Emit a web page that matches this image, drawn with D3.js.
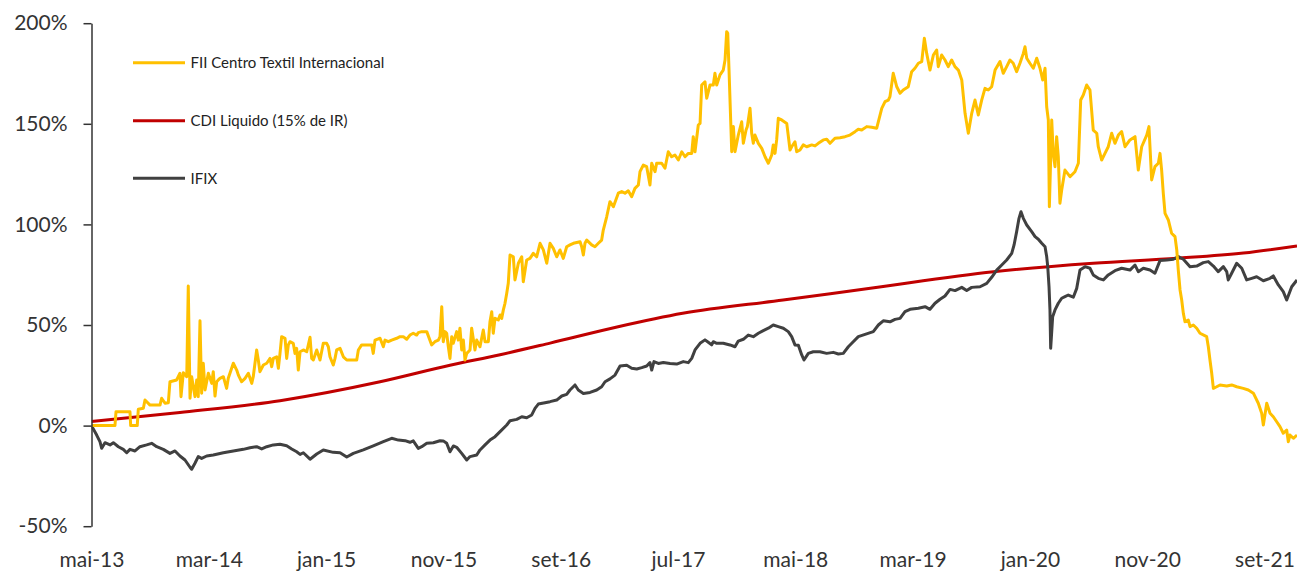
<!DOCTYPE html>
<html>
<head>
<meta charset="utf-8">
<script src="https://cdn.jsdelivr.net/npm/d3@7"></script>
<style>
  html, body { margin: 0; padding: 0; background: #fff; }
  svg { display: block; }
  text { font-family: Lato, "Open Sans", sans-serif; }
</style>
</head>
<body>
<svg id="chart" width="1297" height="572"></svg>
<script>
// ---- data (x = months since mai-13, y = cumulative return %) ----
const xTickMonths = [0, 10, 20, 30, 40, 50, 60, 70, 80, 90, 100];
const xTickLabels = ["mai-13", "mar-14", "jan-15", "nov-15", "set-16", "jul-17", "mai-18", "mar-19", "jan-20", "nov-20", "set-21"];
const yTicks = [-50, 0, 50, 100, 150, 200];
const seriesNames = ["FII Centro Textil Internacional", "CDI Liquido (15% de IR)", "IFIX"];

const cdiMonths = [0, 7.54, 16.07, 24.6, 30.56, 34.83, 39.1, 44.8, 50.4, 58.96, 66.4, 76.9, 85.4, 92.56, 98.2, 102.77];
const cdiValues = [2.0, 6.5, 12.4, 21.8, 30.0, 35.2, 41.0, 49.0, 55.8, 62.4, 68.3, 76.5, 80.7, 83.2, 85.8, 89.3];

const ifixMonths = [0, 0.44, 0.72, 0.87, 1.15, 1.58, 1.86, 2.29, 2.71, 3.0, 3.28, 3.71, 4.13, 4.7, 5.13, 5.56, 6.12, 6.69, 7.12, 7.54, 7.97, 8.4, 8.54, 8.82, 9.1, 9.39, 9.82, 10.38, 11.24, 12.09, 12.94, 13.51, 14.08, 14.51, 14.94, 15.5, 16.07, 16.64, 17.07, 17.49, 17.78, 18.06, 18.63, 19.2, 19.76, 20.61, 21.19, 21.76, 22.32, 23.17, 24.02, 24.88, 25.59, 26.16, 26.73, 27.15, 27.43, 27.86, 28.15, 28.58, 29.14, 29.71, 29.99, 30.28, 30.56, 30.85, 31.13, 31.56, 31.99, 32.27, 32.84, 33.12, 33.55, 33.97, 34.4, 34.83,
  35.4, 35.68, 36.25, 36.68, 37.1, 37.53, 37.81, 38.09, 38.66, 39.09, 39.66, 40.09, 40.51, 40.79, 41.22, 41.5, 41.93, 42.5, 43.07, 43.49, 43.78, 44.2, 44.63, 45.06, 45.63, 46.05, 46.48, 46.91, 47.33, 47.61, 47.76, 47.95, 48.32, 48.75, 49.32, 49.89, 50.45, 50.88, 51.17, 51.45, 51.88, 52.3, 52.58, 52.87, 53.01, 53.3, 53.86, 54.43, 54.86, 55.14, 55.57, 55.99, 56.42, 56.85, 57.27, 57.7, 58.12, 58.55, 58.98, 59.4, 59.69, 59.97, 60.26, 60.55, 60.74, 61.11, 61.53, 62.1, 62.67, 63.24, 63.67, 64.09, 64.52, 64.94, 65.37,
  66.65, 67.08, 67.5, 68.07, 68.5, 68.93, 69.35, 69.78, 70.49, 71.06, 71.48, 71.91, 72.34, 72.76, 73.19, 73.62, 74.19, 74.61, 75.04, 75.75, 76.32, 76.74, 77.17, 77.6, 78.02, 78.45, 78.65, 78.87, 79.07, 79.24, 79.44, 79.73, 80.15, 80.44, 80.72, 81.01, 81.29, 81.43, 81.52, 81.63, 81.71, 81.77, 81.94, 82.14, 82.42, 82.71, 82.99, 83.27, 83.7, 83.99, 84.27, 84.7, 85.12, 85.4, 85.83, 86.26, 86.68, 87.25, 87.82, 88.53, 88.96, 89.24, 89.67, 90.24, 90.66, 91.09, 91.66, 92.23, 92.65, 93.08, 93.65, 94.22, 94.78, 95.21, 95.64, 96.06, 96.49, 96.78, 96.91, 97.2, 97.63, 98.06, 98.48, 98.91, 99.33, 99.9, 100.47, 100.75, 101.18, 101.6, 101.89, 102.32, 102.77];
const ifixValues = [0, -4.7, -8.0, -11.3, -8.5, -9.6, -8.5, -10.5, -11.8, -13.5, -11.8, -12.6, -10.5, -9.6, -8.8, -10.5, -11.8, -13.8, -12.6, -15.1, -17.1, -20.7, -21.7, -18.7, -15.4, -16.3, -15.1, -14.6, -13.5, -12.6, -11.8, -11.0, -10.5, -11.6, -10.5, -9.6, -9.3, -10.0, -11.6, -13.0, -14.3, -13.5, -16.7, -14.1, -12.1, -13.3, -13.5, -15.6, -13.8, -12.1, -10.1, -8.0, -6.3, -7.2, -7.5, -8.3, -7.6, -11.3, -10.5, -8.8, -8.5, -7.5, -7.6, -8.8, -13.0, -10.1, -10.8, -13.8, -17.1, -15.4, -14.6, -12.1, -9.6, -7.2, -5.5, -3.0,
  0.3, 2.4, 3.1, 4.4, 3.9, 5.3, 8.6, 10.7, 11.4, 11.9, 12.7, 14.7, 15.5, 17.7, 20.2, 17.7, 16.0, 16.5, 17.7, 19.3, 21.8, 23.2, 25.1, 29.6, 30.0, 28.5, 28.1, 28.8, 29.6, 31.3, 27.6, 31.8, 30.9, 31.4, 30.9, 30.6, 31.8, 31.3, 33.4, 37.6, 40.9, 42.6, 41.4, 40.1, 41.7, 40.9, 40.9, 40.1, 39.2, 42.0, 42.9, 45.0, 44.2, 45.9, 47.2, 48.4, 50.0, 49.2, 48.4, 46.7, 44.2, 40.1, 39.9, 35.1, 32.6, 35.9, 36.7, 36.7, 35.9, 36.4, 35.6, 35.9, 39.2, 41.7, 44.2,
  46.7, 50.0, 52.1, 51.6, 52.8, 53.3, 56.6, 57.8, 58.3, 59.1, 57.8, 60.8, 62.8, 64.4, 67.7, 67.1, 68.7, 67.1, 68.7, 69.0, 70.7, 73.7, 77.3, 79.8, 82.3, 85.6, 89.8, 96.4, 103.0, 106.3, 103.0, 99.7, 96.4, 93.9, 92.6, 90.6, 88.9, 84.0, 79.0, 69.0, 57.5, 38.4, 54.1, 57.5, 60.8, 63.3, 64.1, 64.9, 63.8, 68.2, 77.3, 79.0, 78.2, 74.9, 73.2, 72.4, 74.9, 77.0, 78.2, 77.3, 79.8, 76.5, 78.2, 77.3, 75.7, 82.0, 82.3, 82.7, 84.0, 82.7, 79.0, 79.3, 81.0, 81.5, 79.3, 76.5, 79.0, 76.5, 72.4, 75.7, 80.7, 78.2, 72.4, 73.2, 74.0, 72.0, 73.2, 74.4, 69.9, 66.6, 62.4, 69.0, 72.4];

const ctiMonths = [0, 2.0, 2.09, 3.28, 3.34, 3.9, 3.99, 4.42, 4.56, 4.99, 5.84, 5.98, 6.27, 6.55, 6.69, 7.26, 7.54, 7.63, 7.83, 8.12, 8.25, 8.4, 8.54, 8.82, 8.97, 9.1, 9.25, 9.39, 9.53, 9.68, 9.96, 10.25, 10.38, 10.53, 10.67, 10.81, 10.95, 11.24, 11.52, 11.66, 12.09, 12.38, 12.52, 12.8, 13.09, 13.37, 13.66, 13.79, 14.08, 14.22, 14.36, 14.65, 14.94, 15.22, 15.36, 15.5, 15.79, 15.93, 16.07, 16.21, 16.5, 16.64, 16.78, 16.92, 17.2, 17.35, 17.49, 17.63, 17.78, 18.06, 18.35, 18.63, 18.77, 18.91, 19.2, 19.48, 19.76, 20.05, 20.19, 20.33, 20.61, 20.76, 20.9, 21.19, 21.47, 21.76, 22.61, 22.75, 23.03, 23.89, 24.02, 24.17, 24.6, 24.88, 25.02, 25.3, 25.59, 26.02, 26.3, 26.58, 26.87, 27.15, 27.43, 27.72, 27.86, 28.15, 28.58, 29.0, 29.28, 29.57, 29.71, 29.86, 29.99, 30.14, 30.28, 30.42, 30.56, 30.71, 30.84, 31.13, 31.27, 31.41, 31.56, 31.7, 31.84, 31.99, 32.27, 32.41, 32.69, 32.84, 33.12, 33.4, 33.55, 33.83, 33.97, 34.12, 34.25, 34.4, 34.68, 34.83,
  34.97, 35.11, 35.25, 35.4, 35.53, 35.68, 35.96, 36.1, 36.39, 36.68, 36.81, 37.1, 37.38, 37.66, 37.95, 38.24, 38.52, 38.81, 39.09, 39.37, 39.66, 39.94, 40.22, 40.51, 40.79, 41.08, 41.65,
  41.79, 41.93, 42.07, 42.22, 42.64, 42.92, 43.21, 43.49, 43.63, 43.92,
  44.2, 44.49, 44.91, 45.2, 45.48, 45.76, 46.05, 46.33, 46.62, 46.76, 47.04, 47.33, 47.61, 47.76, 48.04, 48.18, 48.61, 48.89, 49.17, 49.46, 49.74, 50.03, 50.32, 50.6, 50.88, 51.17, 51.3, 51.45, 51.73, 51.88, 52.02, 52.3, 52.45, 52.73, 53.01, 53.15, 53.3, 53.58, 53.86, 54.01, 54.15, 54.24, 54.35, 54.49, 54.58, 54.72, 54.86, 55.14, 55.43, 55.57, 55.8, 55.91, 56.14, 56.28, 56.42, 56.56, 56.85, 57.14, 57.42, 57.7, 57.99, 58.12, 58.27, 58.41, 58.55, 58.84, 59.27, 59.55, 59.69, 59.97, 60.12, 60.4, 60.68, 60.97, 61.4, 61.68, 61.96, 62.39, 62.68, 62.96, 63.38, 63.81, 64.24, 64.66, 65.09, 65.37, 65.66, 66.09, 66.51, 66.94, 67.37, 67.65, 67.93, 68.07, 68.35, 68.65, 68.93, 69.2, 69.63, 69.92, 70.2, 70.49, 70.78, 71.0, 71.2, 71.48, 71.77, 72.05, 72.19, 72.48, 72.76, 73.04, 73.33, 73.61, 73.9,
  74.19, 74.47, 74.75, 75.04, 75.32, 75.6, 75.89, 76.17, 76.45, 76.74, 77.03, 77.45, 77.73, 78.02, 78.3, 78.58, 78.87, 79.15, 79.44, 79.58, 79.73, 80.0, 80.29, 80.58, 80.86, 81.09, 81.29, 81.43, 81.57, 81.66, 81.86, 81.99, 82.14, 82.28, 82.42, 82.56, 82.71, 82.99, 83.42, 83.84, 84.13, 84.33, 84.55, 84.84, 85.12, 85.4, 85.7, 85.83, 86.12, 86.4, 86.68, 86.97, 87.25, 87.54, 87.82, 88.11, 88.53, 88.96, 89.24, 89.53, 89.96, 90.15, 90.38, 90.66, 90.95, 91.09, 91.23, 91.37, 91.52, 91.8, 92.08, 92.37, 92.52,
  92.65, 92.8, 92.94, 93.08, 93.22, 93.5, 93.65, 93.93, 94.22, 94.5, 95.07, 95.21, 95.35, 95.5, 95.64, 95.92, 96.21, 96.78, 97.2, 97.63, 98.19, 98.62, 99.05, 99.47, 99.76, 99.9, 100.19, 100.47, 100.75, 101.04, 101.32, 101.6, 101.89, 102.03, 102.17, 102.46, 102.77];
const ctiValues = [0, 0, 6.9, 6.9, 0, 0, 8.1, 8.6, 12.7, 10.2, 10.2, 13.6, 11.1, 11.4, 21.8, 22.7, 26.0, 14.4, 26.3, 24.3, 69.4, 13.6, 24.3, 14.4, 22.7, 14.4, 52.1, 16.1, 31.0, 17.7, 26.0, 21.0, 26.8, 14.7, 21.8, 22.7, 23.5, 24.3, 18.5, 23.5, 31.0, 27.6, 25.1, 21.8, 23.5, 26.0, 21.0, 24.3, 37.6, 32.6, 26.8, 30.1, 31.0, 33.4, 29.3, 33.4, 34.2, 28.5, 35.9, 44.2, 43.4, 33.4, 40.1, 41.7, 40.9, 35.9, 38.4, 27.6, 36.7, 37.6, 36.7, 43.9, 33.4, 32.6, 37.6, 32.6, 40.9, 40.9, 39.2, 34.2, 30.1, 33.4, 37.6, 38.4, 34.2, 32.6, 32.6, 37.6, 40.1, 40.1, 35.9, 42.5, 43.4, 39.2, 42.5, 41.7, 42.5, 43.4, 44.2, 44.2, 42.9, 45.0, 45.9, 45.0, 46.2, 46.7, 46.7, 40.1, 41.7, 42.5, 44.2, 59.1, 41.7, 46.7, 45.9, 39.2, 33.4, 44.2, 40.9, 46.7, 42.5, 48.4, 37.6, 42.5, 32.6, 35.9, 37.6, 48.4, 37.6, 42.5, 39.2, 47.5, 41.7, 41.7, 51.6, 56.6, 45.9, 53.3, 52.5, 55.0,
  53.3, 57.5, 60.8, 65.8, 70.7, 84.8, 83.9, 72.4, 80.7, 83.9, 71.5, 82.3, 83.1, 85.6, 83.9, 90.6, 87.3, 80.7, 90.6, 88.1, 83.9, 87.3, 83.1, 88.9, 89.8, 90.6, 91.4,
  88.9, 84.8, 90.6, 92.2, 89.8, 88.9, 90.6, 92.2, 97.2, 103.8,
  111.3, 108.8, 115.5, 116.3, 115.5, 116.7, 113.8, 117.9, 119.6, 126.2, 129.5, 128.7, 119.6, 130.4, 126.2, 130.4, 130.4, 127.9, 136.1, 133.6, 134.5, 132.0, 136.1, 133.6, 135.3, 135.3, 143.6, 136.1, 149.4, 150.2, 169.3, 170.9, 162.7, 169.3, 169.3, 175.1, 169.3, 174.3, 176.7, 181.7, 195.8, 195.0, 176.7, 151.9, 136.1, 148.6, 136.1, 144.4, 151.0, 140.3, 146.9, 148.6, 157.7, 145.3, 140.3, 144.4, 140.3, 137.8, 133.6, 130.4, 134.5, 139.5, 135.3, 142.0, 152.7, 151.9, 150.2, 137.0, 138.6, 141.1, 136.1, 137.0, 139.5, 138.6, 139.5, 139.0, 140.3, 142.0, 142.3, 140.3, 142.8, 143.1, 143.6, 144.4, 146.1, 147.3, 146.9, 148.6, 148.3, 147.8, 157.7, 161.0, 161.8, 163.5, 175.1, 168.4, 165.2, 166.8, 168.4, 175.9, 177.6, 180.1, 180.9, 192.5, 185.0, 176.7, 184.2, 186.7, 178.4, 184.2, 181.7, 178.4, 181.7, 178.4, 176.7,
  171.8, 155.2, 145.3, 155.2, 161.8, 154.4, 161.8, 167.6, 166.8, 168.4, 176.7, 180.9, 175.1, 178.4, 181.7, 180.1, 175.9, 180.1, 185.0, 188.3, 182.6, 180.1, 177.6, 182.6, 177.6, 171.8, 177.6, 158.5, 151.9, 108.8, 151.9, 135.3, 128.7, 143.6, 133.6, 110.5, 117.1, 127.0, 123.7, 126.2, 130.4, 161.8, 164.3, 169.3, 166.8, 146.9, 145.3, 138.6, 132.0, 135.3, 138.6, 145.3, 140.3, 144.4, 146.1, 138.6, 142.0, 143.6, 127.0, 138.6, 144.4, 148.6, 122.1, 128.7, 130.4, 135.3, 127.0, 115.5, 105.5, 102.2, 95.6, 93.9, 87.3,
  77.3, 67.4, 62.4, 55.8, 51.6, 52.5, 49.2, 50.0, 48.4, 45.9, 44.2, 39.2, 32.6, 26.0, 18.5, 19.3, 20.2, 19.7, 20.2, 19.3, 18.5, 17.7, 16.1, 11.1, 6.1, 0.3, 11.1, 6.1, 4.4, 1.9, -0.5, -3.8, -2.2, -8.0, -4.7, -6.3, -4.7];

const colors = ["#FFC000", "#C00000", "#404040"];

// ---- chart ----
const svg = d3.select("#chart");
const x = d3.scaleLinear().domain([0, 102.77]).range([91.5, 1297]);
const y = d3.scaleLinear().domain([-50, 200]).range([526.2, 23.2]);

const line = d3.line().x(d => x(d[0])).y(d => y(d[1]));
const zip = (a, b) => a.map((m, i) => [m, b[i]]);

svg.append("clipPath").attr("id", "clip").append("rect")
  .attr("x", 91.5).attr("y", 0).attr("width", 1297 - 91.5).attr("height", 572);

const plot = svg.append("g").attr("clip-path", "url(#clip)");

plot.append("path").datum(zip(cdiMonths, cdiValues))
  .attr("d", line.curve(d3.curveMonotoneX))
  .attr("fill", "none").attr("stroke", colors[1]).attr("stroke-width", 3);

line.curve(d3.curveLinear);
plot.append("path").datum(zip(ifixMonths, ifixValues))
  .attr("d", line)
  .attr("fill", "none").attr("stroke", colors[2]).attr("stroke-width", 3)
  .attr("stroke-linejoin", "round");

plot.append("path").datum(zip(ctiMonths, ctiValues))
  .attr("d", line)
  .attr("fill", "none").attr("stroke", colors[0]).attr("stroke-width", 3)
  .attr("stroke-linejoin", "round");

// y axis
const yAxis = svg.append("g").attr("transform", "translate(91.5,0)")
  .call(d3.axisLeft(y).tickValues(yTicks).tickSize(8).tickSizeOuter(0).tickPadding(16)
    .tickFormat(d => d + "%"));
yAxis.select(".domain").attr("stroke", "#333").attr("stroke-width", 1.5);
yAxis.selectAll(".tick line").attr("stroke", "#333").attr("stroke-width", 1.5);
yAxis.selectAll(".tick text").attr("fill", "#333").style("font-size", "21px")
  .style("font-family", "Lato, 'Open Sans', sans-serif");

// x axis (labels only)
const xAxis = svg.append("g").attr("transform", "translate(0,526)")
  .call(d3.axisBottom(x).tickValues(xTickMonths).tickSize(0).tickPadding(26)
    .tickFormat((d, i) => xTickLabels[i]));
xAxis.select(".domain").remove();
xAxis.selectAll(".tick text").attr("fill", "#333").style("font-size", "21px")
  .style("font-family", "Lato, 'Open Sans', sans-serif");

// legend
const legendY = [62.7, 120.7, 178.3];
const legend = svg.append("g");
seriesNames.forEach((name, i) => {
  legend.append("line").attr("x1", 133).attr("x2", 185)
    .attr("y1", legendY[i]).attr("y2", legendY[i])
    .attr("stroke", colors[i]).attr("stroke-width", 3);
  legend.append("text").attr("x", 190.5).attr("y", legendY[i]).attr("dy", "0.35em")
    .attr("fill", "#222").style("font-size", "15px").text(name);
});
</script>
</body>
</html>
